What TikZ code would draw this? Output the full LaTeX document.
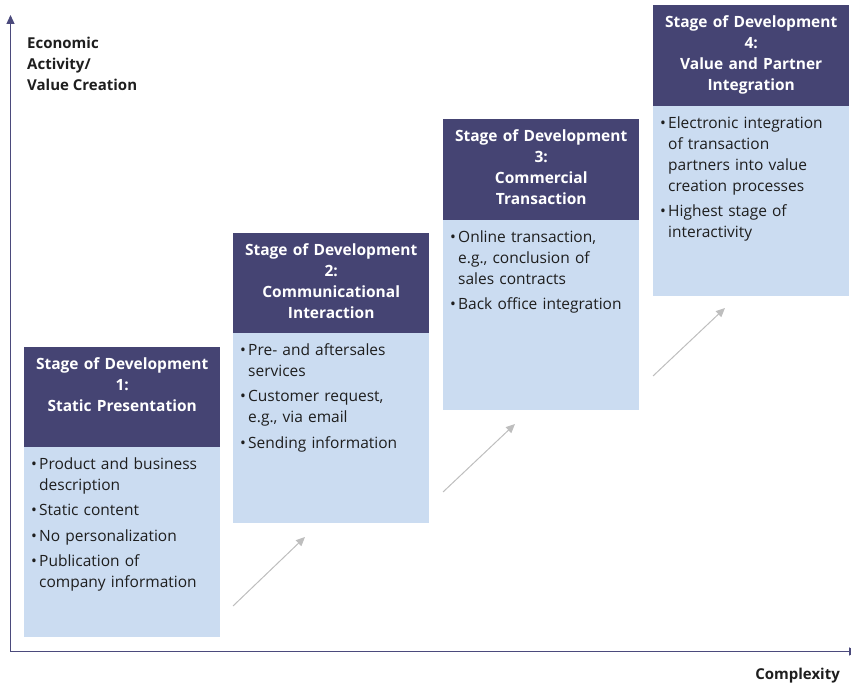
\documentclass[tikz,border=0pt]{standalone}
\usepackage{fontspec}
\setmainfont{Open Sans}
\usetikzlibrary{arrows.meta}
\definecolor{hdr}{HTML}{454473}
\definecolor{bdy}{HTML}{CBDCF1}
\definecolor{axiscol}{HTML}{4B4A7C}
\definecolor{txt}{HTML}{1E1E1E}
\definecolor{arr}{HTML}{BEBEBE}
\newcommand\bul[1]{\par\hangindent=8pt\hangafter=1\noindent\makebox[8pt][l]{\textbullet}#1\par}
\tikzset{
  hdrbox/.style={draw=none, fill=hdr, minimum width=196pt, minimum height=101pt, inner sep=0pt, anchor=north west},
  bdybox/.style={draw=none, fill=bdy, minimum width=196pt, minimum height=190pt, inner sep=0pt, anchor=north west},
  hdrtext/.style={anchor=north, text=white, inner sep=0pt, text width=192pt, align=center,
    font=\fontsize{15.5}{21}\selectfont\bfseries},
  bdytext/.style={anchor=north west, text=txt, inner sep=0pt, text width=185pt,
    font=\fontsize{15.5}{21}\selectfont\raggedright\setlength\parskip{4.5pt}},
  axislabel/.style={inner sep=0pt, text=txt, font=\fontsize{15}{21}\selectfont\bfseries},
  growth/.style={draw=arr, line width=1pt, -{Triangle[length=9pt,width=8pt]}},
  axisline/.style={draw=axiscol, line width=1.2pt}
}
\begin{document}
\begin{tikzpicture}[x=1pt,y=-1pt]
\clip (0,0) rectangle (851,685);
\useasboundingbox (0,0) rectangle (851,685);
% axes
\coordinate (origin) at (10.5,651.5);
\coordinate (ytop) at (10.5,15);
\coordinate (xend) at (858,651.5);
\draw[axisline, -{Triangle[length=9pt,width=8pt]}] (origin) -- (ytop);
\draw[axisline, -{Triangle[length=9pt,width=8pt]}] (origin) -- (xend);
\node[axislabel, anchor=north west, align=left] (ylab) at (27,37) {Economic\\Activity/\\Value Creation};
\node[axislabel, anchor=north east] (xlab) at (840,668) {Complexity};
% stage 1
\node[hdrbox] (h1) at (24,347) {};
\node[bdybox] (b1) at (24,447) {};
\node[hdrtext] (h1t) at ([yshift=-10pt]h1.north) {Stage of Development\\1:\\Static Presentation};
\node[bdytext] (b1t) at ([xshift=7pt,yshift=3.5pt]b1.north west) {%
\bul{Product and business\newline description}
\bul{Static content}
\bul{No personalization}
\bul{Publication of\newline company information}};
% stage 2
\node[hdrbox] (h2) at (233,233) {};
\node[bdybox] (b2) at (233,333) {};
\node[hdrtext] (h2t) at ([yshift=-10pt]h2.north) {Stage of Development\\2:\\Communicational\\Interaction};
\node[bdytext] (b2t) at ([xshift=7pt,yshift=3.5pt]b2.north west) {%
\bul{Pre- and aftersales\newline services}
\bul{Customer request,\newline e.g., via email}
\bul{Sending information}};
% stage 3
\node[hdrbox] (h3) at (443,119) {};
\node[bdybox] (b3) at (443,220) {};
\node[hdrtext] (h3t) at ([yshift=-10pt]h3.north) {Stage of Development\\3:\\Commercial\\Transaction};
\node[bdytext] (b3t) at ([xshift=7pt,yshift=3.5pt]b3.north west) {%
\bul{Online transaction,\newline e.g., conclusion of\newline sales contracts}
\bul{Back office integration}};
% stage 4
\node[hdrbox] (h4) at (653,5) {};
\node[bdybox] (b4) at (653,106) {};
\node[hdrtext] (h4t) at ([yshift=-10pt]h4.north) {Stage of Development\\4:\\Value and Partner\\Integration};
\node[bdytext] (b4t) at ([xshift=7pt,yshift=3.5pt]b4.north west) {%
\bul{Electronic integration\newline of transaction\newline partners into value\newline creation processes}
\bul{Highest stage of\newline interactivity}};
% growth arrows
\coordinate (a1s) at (233,606);
\coordinate (a1e) at (305,537);
\coordinate (a2s) at (443,492);
\coordinate (a2e) at (515,424);
\coordinate (a3s) at (653,376);
\coordinate (a3e) at (725,308);
\draw[growth] (a1s) -- (a1e);
\draw[growth] (a2s) -- (a2e);
\draw[growth] (a3s) -- (a3e);
\end{tikzpicture}
\end{document}
